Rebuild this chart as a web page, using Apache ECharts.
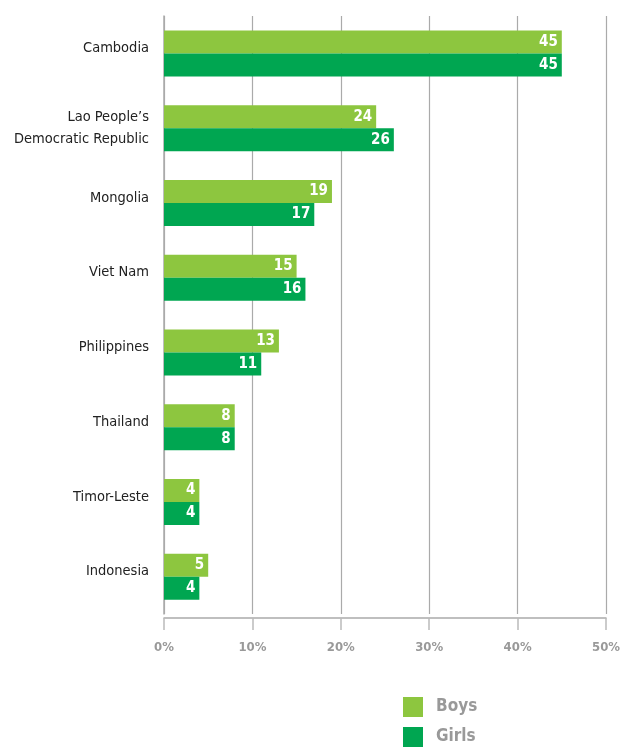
<!DOCTYPE html>
<html><head><meta charset="utf-8">
<script src="https://cdn.jsdelivr.net/npm/echarts@6/dist/echarts.min.js"></script>
<style>html,body{margin:0;padding:0;background:#fff}#c{width:628px;height:747px}</style>
</head><body><div id="c"></div>
<script>
const categories = ["Cambodia", "Lao People’s\nDemocratic Republic", "Mongolia", "Viet Nam", "Philippines", "Thailand", "Timor-Leste", "Indonesia"];
const boys = [45, 24, 19, 15, 13, 8, 4, 5];
const girls = [45, 26, 17, 16, 11, 8, 4, 4];
const xTicks = [0, 10, 20, 30, 40, 50];
const seriesNames = ["Boys", "Girls"];

const font = '"DejaVu Sans Condensed", "Liberation Sans Narrow", "Liberation Sans", sans-serif';
const chart = echarts.init(document.getElementById('c'));
const lbl = {show: true, position: 'insideRight', color: '#fff', fontWeight: 'bold', fontSize: 15, fontFamily: font, distance: 4};
chart.setOption({
  animation: false,
  grid: {left: 164, right: 22, top: 16, bottom: 133},
  legend: {
    orient: 'vertical', left: 403, top: 697, padding: 0, itemWidth: 20, itemHeight: 20, itemGap: 10,
    icon: 'rect',
    textStyle: {color: '#999', fontSize: 17, fontWeight: 'bold', fontFamily: font, padding: [0, 0, 0, 8]},
    data: seriesNames
  },
  xAxis: {
    type: 'value', min: 0, max: 50, interval: 10, offset: 4,
    axisLine: {show: true, lineStyle: {color: '#aaa', width: 1.5}},
    axisTick: {show: true, length: 12, lineStyle: {color: '#bbb', width: 1.5}},
    splitLine: {show: true, lineStyle: {color: '#aaa', width: 1.2}},
    axisLabel: {color: '#999', fontWeight: 'bold', fontSize: 13, fontFamily: font, margin: 23,
      formatter: v => xTicks.includes(v) ? v + '%' : ''}
  },
  yAxis: {
    type: 'category', inverse: true, data: categories,
    axisLine: {show: true, lineStyle: {color: '#aaa', width: 1.5}},
    axisTick: {show: false},
    axisLabel: {color: '#222', fontSize: 14.5, fontFamily: font, margin: 15, lineHeight: 22, align: 'right',
      formatter: v => v.indexOf('\n') >= 0 ? v : v + '\n{s| }',
      rich: {s: {lineHeight: 10, fontSize: 1}}
    }
  },
  series: [
    {name: seriesNames[0], type: 'bar', data: boys, barWidth: 23, barGap: '0%', itemStyle: {color: '#8dc63f'}, label: lbl},
    {name: seriesNames[1], type: 'bar', data: girls, barWidth: 23, barGap: '0%', itemStyle: {color: '#00a651'}, label: lbl}
  ]
});
</script></body></html>
